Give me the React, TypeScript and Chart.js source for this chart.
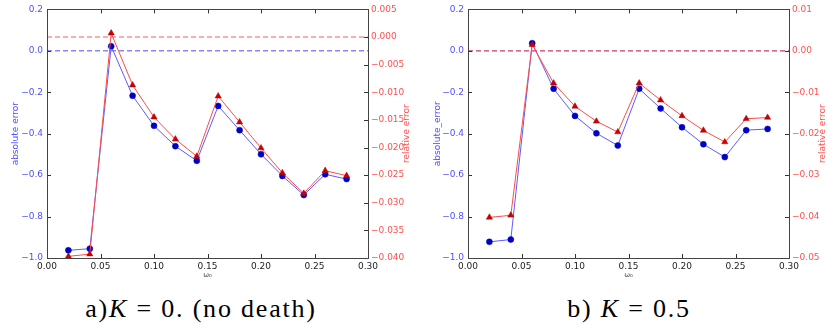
import React, { useEffect, useRef } from 'react';
import { Chart, registerables } from 'chart.js';
Chart.register(...registerables);

// ---- data ----
const omega = [0.02, 0.04, 0.06, 0.08, 0.1, 0.12, 0.14, 0.16, 0.18, 0.2, 0.22, 0.24, 0.26, 0.28];
const absErrA = [-0.963, -0.955, 0.022, -0.217, -0.362, -0.46, -0.531, -0.266, -0.383, -0.499, -0.604, -0.696, -0.596, -0.619];
const relErrA = [-0.0397, -0.0393, 0.0007, -0.0087, -0.0145, -0.0185, -0.0216, -0.0107, -0.0154, -0.0201, -0.0246, -0.0283, -0.0242, -0.0251];
const absErrB = [-0.922, -0.911, 0.037, -0.183, -0.314, -0.398, -0.457, -0.183, -0.278, -0.369, -0.451, -0.513, -0.383, -0.377];
const relErrB = [-0.0402, -0.0397, 0.0015, -0.0078, -0.0134, -0.017, -0.0196, -0.0078, -0.0119, -0.0157, -0.0192, -0.022, -0.0164, -0.0161];
const xTicks = [0, 0.05, 0.1, 0.15, 0.2, 0.25, 0.3];
const absTicks = [-1.0, -0.8, -0.6, -0.4, -0.2, 0, 0.2];
const relTicksA = [-0.04, -0.035, -0.03, -0.025, -0.02, -0.015, -0.01, -0.005, 0, 0.005];
const relTicksB = [-0.05, -0.04, -0.03, -0.02, -0.01, 0, 0.01];
const xLabel = 'ω₀';
const relLabel = 'relative error';

const BLUE_TEXT = '#4f4fff';
const RED_TEXT = '#ff4f4f';
const TICK_FONT = { family: 'DejaVu Sans', size: 9 };

function fmt(v: number, d: number) {
  const neg = v < -1e-12;
  return (neg ? '\u2212' : '') + Math.abs(v).toFixed(d);
}

const framePlugin = {
  id: 'mplFrame',
  afterDraw(chart: any, _args: any, opts: any) {
    const { ctx, chartArea: a, scales } = chart;
    ctx.save();
    ctx.strokeStyle = '#333';
    ctx.lineWidth = 1;
    const L = 4;
    ctx.beginPath();
    scales.x.ticks.forEach((t: any) => {
      const px = Math.round(scales.x.getPixelForValue(t.value)) + 0.5;
      ctx.moveTo(px, a.bottom);
      ctx.lineTo(px, a.bottom - L);
      ctx.moveTo(px, a.top);
      ctx.lineTo(px, a.top + L);
    });
    scales.abs.ticks.forEach((t: any) => {
      const py = Math.round(scales.abs.getPixelForValue(t.value)) + 0.5;
      ctx.moveTo(a.left, py);
      ctx.lineTo(a.left + L, py);
    });
    scales.rel.ticks.forEach((t: any) => {
      const py = Math.round(scales.rel.getPixelForValue(t.value)) + 0.5;
      ctx.moveTo(a.right, py);
      ctx.lineTo(a.right - L, py);
    });
    ctx.stroke();
    ctx.strokeStyle = '#444';
    ctx.strokeRect(Math.round(a.left) + 0.5, Math.round(a.top) + 0.5, Math.round(a.right - a.left), Math.round(a.bottom - a.top));

    const cy = (a.top + a.bottom) / 2;
    ctx.font = '9px "DejaVu Sans"';
    ctx.textAlign = 'center';
    ctx.textBaseline = 'middle';
    ctx.fillStyle = BLUE_TEXT;
    ctx.save();
    ctx.translate(opts.leftX, cy);
    ctx.rotate(-Math.PI / 2);
    ctx.fillText(opts.leftTitle, 0, 0);
    ctx.restore();
    ctx.fillStyle = RED_TEXT;
    ctx.save();
    ctx.translate(opts.rightX, cy);
    ctx.rotate(-Math.PI / 2);
    ctx.fillText(relLabel, 0, 0);
    ctx.restore();
    ctx.fillStyle = '#444';
    ctx.font = '7px "DejaVu Sans"';
    ctx.fillText(xLabel, (a.left + a.right) / 2, 275);
    ctx.restore();
  },
};

type PanelProps = {
  abs: number[];
  rel: number[];
  relTicks: number[];
  relDigits: number;
  leftTitle: string;
  left: number;
  width: number;
  leftW: number;
  rightW: number;
  leftX: number;
  rightX: number;
};

function Panel(p: PanelProps) {
  const ref = useRef<HTMLCanvasElement>(null);
  useEffect(() => {
    const relMin = p.relTicks[0];
    const relMax = p.relTicks[p.relTicks.length - 1];
    const chart = new Chart(ref.current as HTMLCanvasElement, {
      type: 'line',
      data: {
        datasets: [
          {
            data: omega.map((x, i) => ({ x, y: p.rel[i] })),
            yAxisID: 'rel',
            borderColor: '#ff4a4a',
            borderWidth: 1,
            backgroundColor: '#cc0000',
            pointBackgroundColor: '#cc0000',
            pointBorderColor: '#aa0000',
            pointBorderWidth: 0.5,
            pointStyle: 'triangle',
            pointRadius: 3.6,
            clip: false,
            order: 1,
          } as any,
          {
            data: omega.map((x, i) => ({ x, y: p.abs[i] })),
            yAxisID: 'abs',
            borderColor: '#5c5cff',
            borderWidth: 1,
            backgroundColor: '#0000cc',
            pointBackgroundColor: '#0000cc',
            pointBorderColor: '#0000aa',
            pointBorderWidth: 0.5,
            pointRadius: 3,
            clip: false,
            order: 2,
          } as any,
          {
            data: [{ x: 0, y: 0 }, { x: 0.3, y: 0 }],
            yAxisID: 'rel',
            borderColor: '#ff5a5a',
            borderWidth: 1,
            borderDash: [5, 3],
            pointRadius: 0,
            order: 3,
          } as any,
          {
            data: [{ x: 0, y: 0 }, { x: 0.3, y: 0 }],
            yAxisID: 'abs',
            borderColor: '#4d4dff',
            borderWidth: 1,
            borderDash: [5, 3],
            pointRadius: 0,
            order: 4,
          } as any,
        ],
      },
      options: {
        animation: false,
        responsive: false,
        devicePixelRatio: 1,
        layout: { padding: { top: 8, left: 0, right: 0, bottom: 0 } },
        plugins: {
          legend: { display: false },
          tooltip: { enabled: false },
          mplFrame: { leftTitle: p.leftTitle, leftX: p.leftX, rightX: p.rightX },
        } as any,
        scales: {
          x: {
            type: 'linear',
            min: 0,
            max: 0.3,
            grid: { display: false, drawTicks: false },
            border: { display: false },
            afterBuildTicks: (s: any) => {
              s.ticks = xTicks.map((v) => ({ value: v }));
            },
            afterFit: (s: any) => {
              s.height = 32;
            },
            ticks: {
              color: '#222',
              font: TICK_FONT,
              padding: 3,
              maxRotation: 0,
              autoSkip: false,
              callback: (v: any) => fmt(Number(v), 2),
            },
          },
          abs: {
            type: 'linear',
            position: 'left',
            min: -1,
            max: 0.2,
            grid: { display: false, drawTicks: false },
            border: { display: false },
            afterBuildTicks: (s: any) => {
              s.ticks = absTicks.map((v) => ({ value: v }));
            },
            afterFit: (s: any) => {
              s.width = p.leftW;
            },
            ticks: {
              color: BLUE_TEXT,
              font: TICK_FONT,
              padding: 4,
              autoSkip: false,
              callback: (v: any) => fmt(Number(v), 1),
            },
          },
          rel: {
            type: 'linear',
            position: 'right',
            min: relMin,
            max: relMax,
            grid: { display: false, drawTicks: false },
            border: { display: false },
            afterBuildTicks: (s: any) => {
              s.ticks = p.relTicks.map((v) => ({ value: v }));
            },
            afterFit: (s: any) => {
              s.width = p.rightW;
            },
            ticks: {
              color: RED_TEXT,
              font: TICK_FONT,
              padding: 3,
              autoSkip: false,
              callback: (v: any) => fmt(Number(v), p.relDigits),
            },
          },
        },
      },
      plugins: [framePlugin as any],
    });
    return () => chart.destroy();
  }, []);
  return (
    <canvas
      ref={ref}
      width={p.width}
      height={290}
      style={{ position: 'absolute', left: p.left, top: 0, width: p.width, height: 290 }}
    />
  );
}

const capStyle: React.CSSProperties = {
  position: 'absolute',
  top: 294,
  fontFamily: '"Liberation Serif", "DejaVu Serif", serif',
  fontSize: 26,
  lineHeight: '30px',
  letterSpacing: '1.8px',
  whiteSpace: 'nowrap',
  transform: 'translateX(-50%)',
  color: '#000',
};

export default function App() {
  return (
    <div style={{ position: 'absolute', left: 0, top: 0, width: 827, height: 331, background: '#fff', overflow: 'hidden' }}>
      <Panel abs={absErrA} rel={relErrA} relTicks={relTicksA} relDigits={3} leftTitle="absolute error"
        left={0} width={416} leftW={47} rightW={48} leftX={16} rightX={407} />
      <Panel abs={absErrB} rel={relErrB} relTicks={relTicksB} relDigits={2} leftTitle="absolute_error"
        left={416} width={411} leftW={52} rightW={38} leftX={22} rightX={407} />
      <div style={{ ...capStyle, left: 201 }}>
        a)<i>K</i> = 0. (no death)
      </div>
      <div style={{ ...capStyle, left: 629 }}>
        b) <i>K</i> = 0.5
      </div>
    </div>
  );
}
